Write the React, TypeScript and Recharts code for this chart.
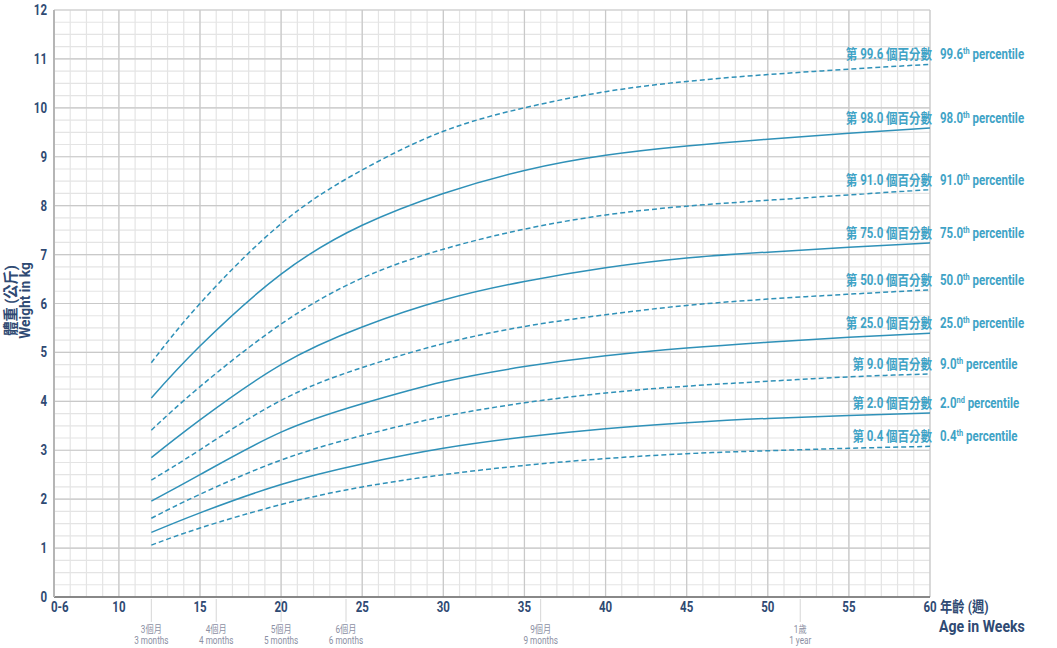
import React from 'react';
import { LineChart, Line, XAxis, YAxis, CartesianGrid, Label } from 'recharts';

// age in weeks where the percentile curves are sampled
const weeks = [12, 15, 20, 25, 30, 35, 40, 45, 50, 55, 60];

// weight (kg) per percentile
const p996 = [4.79, 6.0, 7.63, 8.73, 9.52, 10.0, 10.33, 10.54, 10.68, 10.79, 10.89];
const p980 = [4.07, 5.13, 6.6, 7.6, 8.25, 8.72, 9.03, 9.22, 9.36, 9.48, 9.59];
const p910 = [3.41, 4.3, 5.58, 6.52, 7.11, 7.52, 7.81, 7.99, 8.11, 8.22, 8.33];
const p750 = [2.85, 3.62, 4.75, 5.52, 6.07, 6.45, 6.73, 6.93, 7.05, 7.15, 7.24];
const p500 = [2.39, 3.01, 4.02, 4.69, 5.18, 5.53, 5.77, 5.96, 6.09, 6.19, 6.28];
const p250 = [1.96, 2.5, 3.37, 3.95, 4.4, 4.71, 4.93, 5.09, 5.21, 5.31, 5.39];
const p090 = [1.61, 2.1, 2.8, 3.3, 3.69, 3.97, 4.17, 4.31, 4.41, 4.5, 4.56];
const p020 = [1.32, 1.72, 2.3, 2.72, 3.04, 3.27, 3.44, 3.56, 3.65, 3.71, 3.76];
const p004 = [1.06, 1.41, 1.89, 2.25, 2.5, 2.69, 2.83, 2.93, 2.99, 3.04, 3.08];

const seriesKeys = ['p996', 'p980', 'p910', 'p750', 'p500', 'p250', 'p090', 'p020', 'p004'];
const seriesValues = [p996, p980, p910, p750, p500, p250, p090, p020, p004];
const dashedSeries = [true, false, true, false, true, false, true, false, true];
const cnLabels = [
  '第 99.6 個百分數', '第 98.0 個百分數', '第 91.0 個百分數', '第 75.0 個百分數', '第 50.0 個百分數',
  '第 25.0 個百分數', '第 9.0 個百分數', '第 2.0 個百分數', '第 0.4 個百分數',
];
const enNumbers = ['99.6', '98.0', '91.0', '75.0', '50.0', '25.0', '9.0', '2.0', '0.4'];
const enSuffixes = ['th', 'th', 'th', 'th', 'th', 'th', 'th', 'nd', 'th'];

// axis ticks
const weekTicks = [6, 10, 15, 20, 25, 30, 35, 40, 45, 50, 55, 60];
const monthWeeks = [12, 16, 20, 24, 36, 52];
const monthCn = ['3個月', '4個月', '5個月', '6個月', '9個月', '1歲'];
const monthEn = ['3 months', '4 months', '5 months', '6 months', '9 months', '1 year'];
const kgTicks = [0, 1, 2, 3, 4, 5, 6, 7, 8, 9, 10, 11, 12];

// grid lines: one per week, one per quarter kg
const minorWeeks = Array.from({ length: 55 }, (_, i) => 6 + i);
const majorWeeks = [10, 15, 20, 25, 30, 35, 40, 45, 50, 55, 60];
const minorKg = Array.from({ length: 49 }, (_, i) => i * 0.25);

const data = weeks.map((w, i) => {
  const row: Record<string, number> = { week: w };
  seriesKeys.forEach((k, s) => {
    row[k] = seriesValues[s][i];
  });
  return row;
});

const FONT = 'Roboto, "Noto Sans CJK TC", sans-serif';
const NAVY = '#2f4a73';
const LINE = '#2f91b8';
const LABEL = '#3fa3c6';
const allTicks = Array.from(new Set([...weekTicks, ...monthWeeks])).sort((a, b) => a - b);

// narrow text: the original uses a condensed face that is not installed
const CText = ({ x, y, anchor = 'start', size, weight = 'bold', fill, rotate = 0, squeeze = 0.82, children }: any) => (
  <g transform={`translate(${x},${y}) rotate(${rotate}) scale(${squeeze},1)`}>
    <text x={0} y={0} textAnchor={anchor} fontSize={size} fontWeight={weight} fill={fill} fontFamily={FONT}>
      {children}
    </text>
  </g>
);

const XTick = (props: any) => {
  const { x, y, payload } = props;
  const v = payload.value;
  const m = monthWeeks.indexOf(v);
  return (
    <g>
      {m >= 0 && (
        <g>
          <line x1={x} y1={y + 2} x2={x} y2={y + 25} stroke="#d6d6d6" strokeWidth={1} />
          <CText x={x} y={y + 36} anchor="middle" size={10} weight="normal" fill="#8b8fa3">
            {monthCn[m]}
          </CText>
          <CText x={x} y={y + 47} anchor="middle" size={10} weight="normal" fill="#8b8fa3">
            {monthEn[m]}
          </CText>
        </g>
      )}
      {weekTicks.includes(v) && (
        <CText x={v === 6 ? x - 3 : x} y={y + 15} anchor={v === 6 ? 'start' : 'middle'} size={14} fill={NAVY}>
          {v === 6 ? '0-6' : v}
        </CText>
      )}
      {v === 60 && (
        <g>
          <CText x={x + 10} y={y + 15} size={15} fill={NAVY}>
            年齡 (週)
          </CText>
          <CText x={x + 9} y={y + 35} size={16} fill={NAVY} squeeze={0.88}>
            Age in Weeks
          </CText>
        </g>
      )}
    </g>
  );
};

const YTick = (props: any) => {
  const { x, y, payload } = props;
  return (
    <CText x={x - 7} y={y + 5} anchor="end" size={14} fill={NAVY}>
      {payload.value}
    </CText>
  );
};

const YTitle = (props: any) => {
  const vb = props.viewBox || { x: 0, y: 10, width: 54, height: 587 };
  const cy = vb.y + vb.height / 2 - 3;
  return (
    <g>
      <CText x={16} y={cy} anchor="middle" size={15} fill={NAVY} rotate={-90} squeeze={0.95}>
        體重 (公斤)
      </CText>
      <CText x={29.5} y={cy} anchor="middle" size={15} fill={NAVY} rotate={-90} squeeze={0.92}>
        Weight in kg
      </CText>
    </g>
  );
};

const endLabel = (s: number) => (props: any) => {
  const { cx, cy, index } = props;
  if (index !== weeks.length - 1) return <g key={`d-${s}-${index}`} />;
  return (
    <g key={`d-${s}-${index}`}>
      <CText x={cx + 2} y={cy - 5} anchor="end" size={14} fill={LABEL}>
        {cnLabels[s]}
      </CText>
      <CText x={cx + 10} y={cy - 5} size={14} fill={LABEL}>
        {enNumbers[s]}
        <tspan fontSize={9} dy={-5}>
          {enSuffixes[s]}
        </tspan>
        <tspan dy={5}> percentile</tspan>
      </CText>
    </g>
  );
};

export default function App() {
  return (
    <div style={{ position: 'absolute', left: 0, top: 0, width: 1057, height: 648, background: '#fff' }}>
      <LineChart width={1057} height={648} data={data} margin={{ top: 10, right: 127, bottom: 0, left: 0 }}>
        <CartesianGrid
          verticalValues={minorWeeks}
          horizontalValues={minorKg}
          stroke="#e4e4e4"
          strokeWidth={1.2}
        />
        <CartesianGrid
          verticalValues={majorWeeks}
          horizontalValues={kgTicks}
          stroke="#c9c9c9"
          strokeWidth={1.2}
        />
        <XAxis
          dataKey="week"
          type="number"
          domain={[6, 60]}
          ticks={allTicks}
          interval={0}
          height={51}
          tickSize={0}
          tickMargin={0}
          tickLine={false}
          axisLine={{ stroke: '#6b6b6b', strokeWidth: 1.5 }}
          tick={<XTick />}
        />
        <YAxis
          type="number"
          domain={[0, 12]}
          ticks={kgTicks}
          interval={0}
          width={54}
          tickSize={0}
          tickMargin={0}
          tickLine={false}
          axisLine={{ stroke: '#b5b5b5', strokeWidth: 2 }}
          tick={<YTick />}
        >
          <Label content={<YTitle />} />
        </YAxis>
        {seriesKeys.map((k, s) => (
          <Line
            key={k}
            dataKey={k}
            type="natural"
            stroke={LINE}
            strokeWidth={1.5}
            strokeDasharray={dashedSeries[s] ? '5 3' : undefined}
            dot={endLabel(s)}
            activeDot={false}
            isAnimationActive={false}
          />
        ))}
      </LineChart>
    </div>
  );
}
